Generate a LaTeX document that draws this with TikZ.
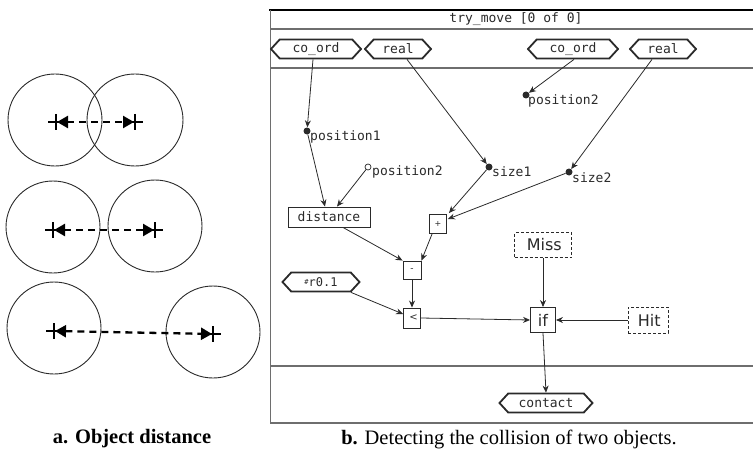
\documentclass[tikz,border=0pt]{standalone}
\usepackage{fontspec}
\setmainfont{Liberation Serif}
\newfontfamily\monof{DejaVu Sans Mono}
\newfontfamily\genf{DejaVu Sans}
\usetikzlibrary{shapes.symbols,arrows.meta}
\definecolor{ink}{HTML}{2A2A2A}
\definecolor{framec}{HTML}{6E6E6E}
\tikzset{
  hexin/.style={draw=ink, line width=1.8pt, signal, signal to=west and east,
    signal pointer angle=95, minimum height=19pt, inner xsep=2pt, inner ysep=0pt,
    font=\monof\fontsize{13}{13}\selectfont, text=ink},
  opbox/.style={draw=ink, line width=0.9pt, inner sep=0pt, font=\monof\fontsize{13}{13}\selectfont, text=ink},
  valbox/.style={draw=ink, line width=0.8pt, densely dashed, inner sep=0pt, font=\genf\fontsize{16}{16}\selectfont, text=ink},
  dotf/.style={circle, fill=ink, inner sep=0pt, minimum size=7pt},
  doth/.style={circle, draw=ink, fill=white, line width=0.7pt, inner sep=0pt, minimum size=6pt},
  lbl/.style={anchor=west, inner sep=0pt, font=\monof\fontsize{13}{13}\selectfont, text=ink},
  wire/.style={draw=ink, line width=0.8pt, -{Stealth[length=7pt,width=6pt]}},
  frameline/.style={draw=framec, line width=1.6pt},
  circ/.style={draw=ink, line width=0.9pt},
  gap/.style={draw=black, line width=2.3pt, dash pattern=on 7pt off 5pt,
    {Triangle[length=11pt,width=12pt]}-{Triangle[length=11pt,width=12pt]}},
  crossm/.style={draw=black, line width=2.4pt}
}
\begin{document}
\begin{tikzpicture}[x=1pt,y=-1pt]
\useasboundingbox (0,0) rectangle (753,452);
% ---------- panel a ----------
\draw[circ] (55,120) ellipse [x radius=47, y radius=46];
\draw[circ] (135,120) ellipse [x radius=48, y radius=46];
\draw[circ] (53,227) ellipse [x radius=47, y radius=46];
\draw[circ] (155,226) ellipse [x radius=47, y radius=46];
\draw[circ] (54,328) ellipse [x radius=47, y radius=46];
\draw[circ] (213,332) ellipse [x radius=47, y radius=46];
\foreach \n/\x/\y in {a1/56/122, a2/135/122, b1/53/230, b2/155/230, c1/54/331, c2/213/334}{
  \coordinate (\n) at (\x,\y);
  \draw[crossm] (\x-8,\y) -- (\x+8,\y) (\x,\y-8) -- (\x,\y+8);
}
\draw[gap, shorten <=1pt, shorten >=1pt] (a1) -- (a2);
\draw[gap, shorten <=1pt, shorten >=1pt] (b1) -- (b2);
\draw[gap, shorten <=1pt, shorten >=1pt] (c1) -- (c2);
\node[font=\bfseries\fontsize{20.5}{20.5}\selectfont] (capa) at (132,439) {a. Object distance};
% ---------- panel b frame ----------
\draw[draw=black, line width=1.8pt] (269,10) -- (753,10);
\draw[draw=framec, line width=0.8pt] (270,10) -- (270,423);
\draw[frameline] (270,29) -- (753,29);
\draw[frameline] (270,68) -- (753,68);
\draw[frameline] (270,366) -- (753,366);
\draw[frameline] (270,423) -- (753,423);
\node[font=\monof\fontsize{13}{13}\selectfont, text=ink] (title) at (516,19) {try\_move [0 of 0]};
\node[font=\fontsize{20.5}{20.5}\selectfont] (capb) at (509,439) {\textbf{b.} Detecting the collision of two objects.};
% ---------- nodes ----------
\node[hexin, minimum width=90pt] (coL) at (316,49) {co\_ord};
\node[hexin, minimum width=66pt] (reL) at (398,49) {real};
\node[hexin, minimum width=90pt] (coR) at (573,49) {co\_ord};
\node[hexin, minimum width=66pt] (reR) at (663,49) {real};
\node[dotf] (p2t) at (526,95) {};
\node[lbl] (p2tl) at (528,101) {position2};
\node[dotf] (p1) at (307,131) {};
\node[lbl] (p1l) at (310,137) {position1};
\node[doth] (p2) at (368,167) {};
\node[lbl] (p2l) at (372,172) {position2};
\node[dotf] (s1) at (489,167) {};
\node[lbl] (s1l) at (492,172) {size1};
\node[dotf] (s2) at (569,172) {};
\node[lbl] (s2l) at (572,178) {size2};
\node[opbox, minimum width=82pt, minimum height=20pt] (dist) at (329,217) {distance};
\node[opbox, minimum width=17pt, minimum height=19pt, font=\genf\fontsize{8}{8}\selectfont] (plus) at (438,224) {+};
\node[valbox, minimum width=57pt, minimum height=25pt] (miss) at (543,245) {\,Miss};
\node[opbox, minimum width=18pt, minimum height=18pt, font=\genf\fontsize{9}{9}\selectfont] (minus) at (412,270) {-};
\node[hexin, minimum width=77pt, font=\monof\fontsize{12}{12}\selectfont] (r01) at (321,282) {\raisebox{2pt}{\fontsize{7}{7}\selectfont\#}r0.1};
\node[opbox, minimum width=17pt, minimum height=20pt, font=\genf\fontsize{10}{10}\selectfont] (lt) at (412,318) {\hspace*{3pt}<};
\node[opbox, minimum width=25pt, minimum height=25pt, font=\genf\fontsize{16}{16}\selectfont] (ifn) at (543,320) {if};
\node[valbox, minimum width=40pt, minimum height=26pt] (hit) at (648,320) {\,Hit};
\node[hexin, minimum width=93pt] (contact) at (546,403) {contact};
% ---------- wires ----------
\draw[wire] ([xshift=-3pt]coL.south) -- (p1);
\draw[wire] ([xshift=9pt]reL.south) -- (s1);
\draw[wire] ([xshift=1pt]coR.south) -- (p2t);
\draw[wire] ([xshift=-11pt]reR.south) -- (s2);
\draw[wire] (p1) -- ([xshift=-4pt]dist.north);
\draw[wire] (p2) -- ([xshift=8pt]dist.north);
\draw[wire] (s1) -- ([xshift=2pt,yshift=1pt]plus.north east);
\draw[wire] (s2) -- ([xshift=1pt,yshift=5pt]plus.east);
\draw[wire] ([xshift=14pt]dist.south) -- (minus.north west);
\draw[wire] ([xshift=3pt]plus.south west) -- (minus.north east);
\draw[wire] (minus.south) -- (lt.north);
\draw[wire] ([xshift=30pt]r01.south) -- ([yshift=4pt]lt.west);
\draw[wire] (lt.east) -- (ifn.west);
\draw[wire] (miss.south) -- (ifn.north);
\draw[wire] (hit.west) -- (ifn.east);
\draw[wire] (ifn.south) -- (contact.north);
\end{tikzpicture}
\end{document}
